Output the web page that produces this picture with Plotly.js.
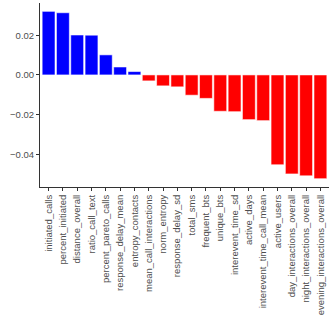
<!DOCTYPE html>
<html>
<head>
<meta charset="utf-8">
<script src="https://cdn.plot.ly/plotly-3.0.1.min.js"></script>
<style>html,body{margin:0;padding:0;background:#fff;}#chart{width:332px;height:332px;}</style>
</head>
<body>
<div id="chart"></div>
<script>
const features = ["initiated_calls","percent_initiated","distance_overall","ratio_call_text","percent_pareto_calls","response_delay_mean","entropy_contacts","mean_call_interactions","norm_entropy","response_delay_sd","total_sms","frequent_bts","unique_bts","interevent_time_sd","active_days","interevent_time_call_mean","active_users","day_interactions_overall","night_interactions_overall","evening_interactions_overall"];
const importance = [0.0320,0.0313,0.0201,0.0200,0.0101,0.0040,0.0017,-0.0030,-0.0055,-0.0060,-0.0102,-0.0118,-0.0183,-0.0185,-0.0225,-0.0230,-0.0452,-0.0498,-0.0508,-0.0522];
const yTicks = [-0.04,-0.02,0.00,0.02];
const yTickText = ["\u22120.04","\u22120.02","0.00","0.02"];

const colors = importance.map(v => v >= 0 ? "#0000FF" : "#FF0000");

const trace = {
  type: "bar",
  x: features,
  y: importance,
  width: 0.9,
  marker: {color: colors, line: {color: "rgba(255,255,255,0.8)", width: 0.7}},
  hoverinfo: "x+y"
};

const layout = {
  width: 332, height: 332,
  margin: {l: 40, r: 3, t: 3, b: 145},
  paper_bgcolor: "#fff", plot_bgcolor: "#fff",
  showlegend: false,
  xaxis: {
    range: [-0.6, 19.6],
    tickangle: -90,
    tickfont: {family: "Liberation Sans, Arial, sans-serif", size: 9.5, color: "#4d4d4d"},
    showline: true, linecolor: "#333", linewidth: 1,
    ticks: "outside", ticklen: 3, tickcolor: "#333", tickwidth: 1,
    showgrid: false, zeroline: false
  },
  yaxis: {
    range: [-0.0564, 0.0362],
    tickvals: yTicks, ticktext: yTickText,
    tickfont: {family: "Liberation Sans, Arial, sans-serif", size: 9.5, color: "#4d4d4d"},
    showline: true, linecolor: "#333", linewidth: 1,
    ticks: "outside", ticklen: 3, tickcolor: "#333", tickwidth: 1,
    showgrid: false, zeroline: false
  }
};

Plotly.newPlot("chart", [trace], layout, {displayModeBar: false, staticPlot: true});
</script>
</body>
</html>
